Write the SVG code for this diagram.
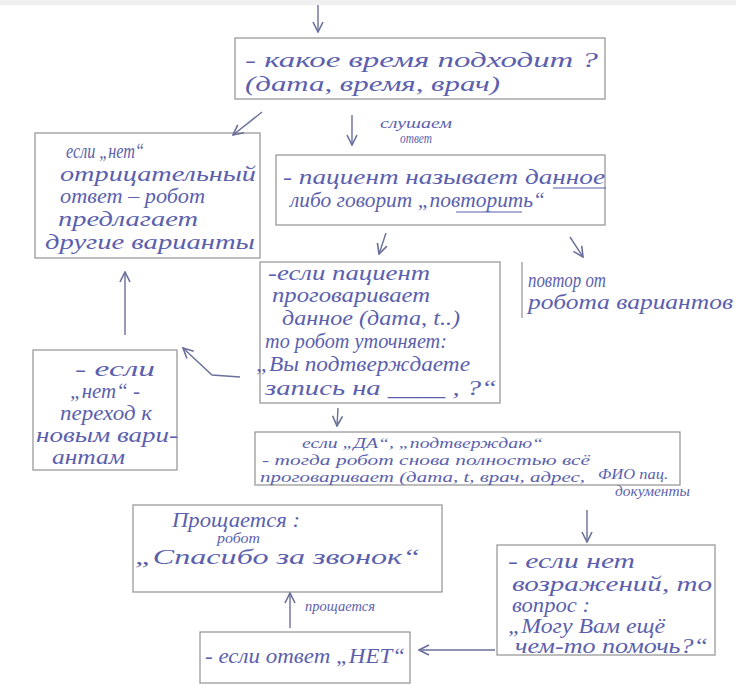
<svg xmlns="http://www.w3.org/2000/svg" width="736" height="685" viewBox="0 0 736 685">
<defs>
<marker id="ah" viewBox="0 0 12 12" refX="11" refY="6" markerWidth="12" markerHeight="12" markerUnits="userSpaceOnUse" orient="auto">
<path d="M1,1 L11,6 L1,11" fill="none" stroke="#6a6f9a" stroke-width="1.6"/>
</marker>
<style>
.box{fill:none;stroke:#9a9a9a;stroke-width:1.3}
.t{font-family:"Liberation Serif",serif;font-style:italic;font-size:20px;fill:#5b5fae}
.m{font-family:"Liberation Serif",serif;font-style:italic;font-size:15px;fill:#5b5fae}
.s{font-family:"Liberation Serif",serif;font-style:italic;font-size:14px;fill:#5b5fae}
.c{fill:none;stroke:#6a6f9a;stroke-width:1.4}
.u{stroke:#5b5fae;stroke-width:1.2}
</style>
</defs>
<rect width="736" height="685" fill="#ffffff"/>
<rect width="736" height="5" fill="#f0f0f0"/>

<g id="n1">
<rect class="box" x="235" y="38" width="370" height="61"/>
<text class="t" x="245" y="67" textLength="353" lengthAdjust="spacingAndGlyphs">- какое время подходит ?</text>
<text class="t" x="245" y="91" textLength="255" lengthAdjust="spacingAndGlyphs">(дата, время, врач)</text>
</g>

<g id="n2">
<rect class="box" x="35" y="133" width="225" height="125"/>
<text class="t" x="66" y="158" textLength="78" lengthAdjust="spacingAndGlyphs">если „нет“</text>
<text class="t" x="60" y="181" textLength="196" lengthAdjust="spacingAndGlyphs">отрицательный</text>
<text class="t" x="60" y="203" textLength="145" lengthAdjust="spacingAndGlyphs">ответ – робот</text>
<text class="t" x="58" y="226" textLength="140" lengthAdjust="spacingAndGlyphs">предлагает</text>
<text class="t" x="45" y="249" textLength="210" lengthAdjust="spacingAndGlyphs">другие варианты</text>
</g>

<g id="n3">
<rect class="box" x="276" y="155" width="329" height="70"/>
<text class="t" x="283" y="184" textLength="322" lengthAdjust="spacingAndGlyphs">- пациент называет данное</text>
<text class="t" x="290" y="207" textLength="255" lengthAdjust="spacingAndGlyphs">либо говорит „повторить“</text>
<line class="u" x1="553" y1="188" x2="606" y2="188"/>
<line class="u" x1="456" y1="212" x2="522" y2="212"/>
</g>

<g id="n4">
<rect class="box" x="260" y="262" width="240" height="141"/>
<text class="t" x="268" y="280" textLength="162" lengthAdjust="spacingAndGlyphs">-если пациент</text>
<text class="t" x="272" y="302" textLength="158" lengthAdjust="spacingAndGlyphs">проговаривает</text>
<text class="t" x="282" y="325" textLength="178" lengthAdjust="spacingAndGlyphs">данное (дата, t..)</text>
<text class="t" x="265" y="348" textLength="182" lengthAdjust="spacingAndGlyphs">то робот уточняет:</text>
<text class="t" x="256" y="371" textLength="214" lengthAdjust="spacingAndGlyphs">„Вы подтверждаете</text>
<text class="t" x="265" y="395" textLength="232" lengthAdjust="spacingAndGlyphs">запись на ____ , ?“</text>
</g>

<g id="n5">
<line class="box" x1="522" y1="262" x2="522" y2="318"/>
<text class="t" x="528" y="287" textLength="78" lengthAdjust="spacingAndGlyphs">повтор от</text>
<text class="t" x="528" y="309" textLength="205" lengthAdjust="spacingAndGlyphs">робота вариантов</text>
</g>

<g id="n6">
<rect class="box" x="33" y="350" width="144" height="120"/>
<text class="t" x="75" y="376" textLength="80" lengthAdjust="spacingAndGlyphs">- если</text>
<text class="t" x="70" y="398" textLength="70" lengthAdjust="spacingAndGlyphs">„нет“ -</text>
<text class="t" x="60" y="420" textLength="92" lengthAdjust="spacingAndGlyphs">переход к</text>
<text class="t" x="36" y="442" textLength="142" lengthAdjust="spacingAndGlyphs">новым вари-</text>
<text class="t" x="52" y="464" textLength="73" lengthAdjust="spacingAndGlyphs">антам</text>
</g>

<g id="n7">
<rect class="box" x="255" y="432" width="425" height="53"/>
<text class="m" x="302" y="448" textLength="241" lengthAdjust="spacingAndGlyphs">если „ДА“, „подтверждаю“</text>
<text class="m" x="262" y="465" textLength="328" lengthAdjust="spacingAndGlyphs">- тогда робот снова полностью всё</text>
<text class="m" x="260" y="482" textLength="325" lengthAdjust="spacingAndGlyphs">проговаривает (дата, t, врач, адрес,</text>
<text class="s" x="598" y="479" font-size="13" textLength="70" lengthAdjust="spacingAndGlyphs">ФИО пац.</text>
<text class="s" x="615" y="496" font-size="13" textLength="75" lengthAdjust="spacingAndGlyphs">документы</text>
</g>

<g id="n8">
<rect class="box" x="133" y="505" width="309" height="87"/>
<text class="t" x="172" y="527" textLength="128" lengthAdjust="spacingAndGlyphs">Прощается :</text>
<text class="s" x="217" y="543" font-size="12" textLength="43" lengthAdjust="spacingAndGlyphs">робот</text>
<text class="t" x="135" y="564" textLength="285" lengthAdjust="spacingAndGlyphs">„Спасибо за звонок“</text>
</g>

<g id="n9">
<rect class="box" x="497" y="545" width="218" height="110"/>
<text class="t" x="508" y="568" textLength="127" lengthAdjust="spacingAndGlyphs">- если нет</text>
<text class="t" x="512" y="591" textLength="200" lengthAdjust="spacingAndGlyphs">возражений, то</text>
<text class="t" x="512" y="612" textLength="78" lengthAdjust="spacingAndGlyphs">вопрос :</text>
<text class="t" x="508" y="633" textLength="157" lengthAdjust="spacingAndGlyphs">„Могу Вам ещё</text>
<text class="t" x="515" y="653" textLength="193" lengthAdjust="spacingAndGlyphs">чем-то помочь?“</text>
</g>

<g id="n10">
<rect class="box" x="200" y="632" width="210" height="51"/>
<text class="t" x="205" y="663" textLength="200" lengthAdjust="spacingAndGlyphs">- если ответ „НЕТ“</text>
</g>

<g id="connectors">
<line class="c" x1="318" y1="5" x2="318" y2="32" marker-end="url(#ah)"/>
<line class="c" x1="262" y1="112" x2="233" y2="135" marker-end="url(#ah)"/>
<line class="c" x1="352" y1="115" x2="352" y2="145" marker-end="url(#ah)"/>
<text class="s" x="380" y="128" textLength="72" lengthAdjust="spacingAndGlyphs">слушаем</text>
<text class="s" x="400" y="143" textLength="32" lengthAdjust="spacingAndGlyphs">ответ</text>
<line class="c" x1="386" y1="233" x2="379" y2="254" marker-end="url(#ah)"/>
<line class="c" x1="570" y1="237" x2="583" y2="257" marker-end="url(#ah)"/>
<line class="c" x1="125" y1="335" x2="125" y2="272" marker-end="url(#ah)"/>
<polyline class="c" points="240,377 212,375 183,348" marker-end="url(#ah)"/>
<line class="c" x1="338" y1="408" x2="337" y2="426" marker-end="url(#ah)"/>
<line class="c" x1="587" y1="510" x2="587" y2="542" marker-end="url(#ah)"/>
<line class="c" x1="495" y1="650" x2="419" y2="650" marker-end="url(#ah)"/>
<line class="c" x1="290" y1="628" x2="290" y2="593" marker-end="url(#ah)"/>
<text class="s" x="305" y="611" textLength="70" lengthAdjust="spacingAndGlyphs">прощается</text>
</g>
</svg>
